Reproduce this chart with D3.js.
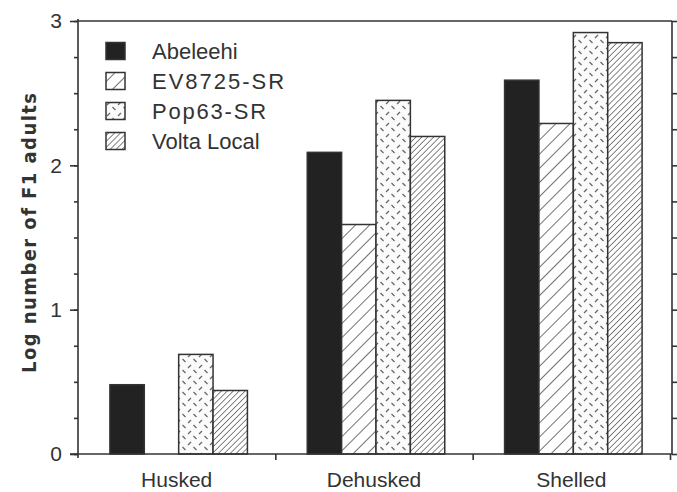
<!DOCTYPE html>
<html>
<head>
<meta charset="utf-8">
<script src="https://cdn.jsdelivr.net/npm/d3@7/dist/d3.min.js"></script>
<style>
  html, body { margin: 0; padding: 0; background: #fff; }
  svg { display: block; }
  .axis path, .axis line { stroke: #333; stroke-width: 1.6; }
  .axis text { font-family: "Liberation Sans", Arial, sans-serif; fill: #333; }
</style>
</head>
<body>
<svg id="chart"></svg>
<script>
// data
const groups = ["Husked", "Dehusked", "Shelled"];
const series = ["Abeleehi", "EV8725-SR", "Pop63-SR", "Volta Local"];
const abeleehi = [0.48, 2.09, 2.59];
const ev8725 = [null, 1.59, 2.29];
const pop63 = [0.69, 2.45, 2.92];
const voltaLocal = [0.44, 2.20, 2.85];
const yMajorTicks = [0, 1, 2, 3];

const values = [abeleehi, ev8725, pop63, voltaLocal];

const width = 677;
const height = 492;
const plotLeft = 78, plotRight = 672, plotTop = 21, plotBottom = 454;

const svg = d3.select("#chart")
    .attr("width", width)
    .attr("height", height);

// patterns
const defs = svg.append("defs");

// wide diagonal lines
const pEv = defs.append("pattern")
    .attr("id", "p-ev")
    .attr("patternUnits", "userSpaceOnUse")
    .attr("width", 10).attr("height", 10)
    .attr("patternTransform", "rotate(45)");
pEv.append("rect").attr("width", 10).attr("height", 10).attr("fill", "#fff");
pEv.append("line").attr("x1", 0).attr("y1", 0).attr("x2", 0).attr("y2", 10)
    .attr("stroke", "#333").attr("stroke-width", 1.4);

// scattered dashes
const pPop = defs.append("pattern")
    .attr("id", "p-pop")
    .attr("patternUnits", "userSpaceOnUse")
    .attr("width", 11).attr("height", 11);
pPop.append("rect").attr("width", 11).attr("height", 11).attr("fill", "#fbfbfb");
pPop.append("line").attr("x1", 1).attr("y1", 5).attr("x2", 4).attr("y2", 2)
    .attr("stroke", "#666").attr("stroke-width", 1.2);
pPop.append("line").attr("x1", 6.5).attr("y1", 7).attr("x2", 9.5).attr("y2", 10)
    .attr("stroke", "#666").attr("stroke-width", 1.2);

// dense diagonal lines
const pVolta = defs.append("pattern")
    .attr("id", "p-volta")
    .attr("patternUnits", "userSpaceOnUse")
    .attr("width", 4.2).attr("height", 4.2)
    .attr("patternTransform", "rotate(45)");
pVolta.append("rect").attr("width", 4.2).attr("height", 4.2).attr("fill", "#fff");
pVolta.append("line").attr("x1", 0).attr("y1", 0).attr("x2", 0).attr("y2", 4.2)
    .attr("stroke", "#444").attr("stroke-width", 1.3);

const fills = ["#222", "url(#p-ev)", "url(#p-pop)", "url(#p-volta)"];

// scales
const y = d3.scaleLinear().domain([0, 3]).range([plotBottom, plotTop]);
const x0 = d3.scaleBand().domain(groups).range([plotLeft, 670]);
const x1 = d3.scaleBand().domain(series)
    .range([2, x0.bandwidth() + 2])
    .paddingInner(0)
    .paddingOuter(0.87);
const xEdge = d3.scaleLinear().domain([0, 3]).range([plotLeft, 670]);

// frame top line
svg.append("line")
    .attr("x1", plotLeft).attr("x2", plotRight)
    .attr("y1", plotTop).attr("y2", plotTop)
    .attr("stroke", "#333").attr("stroke-width", 1.6);

// bars
const barData = [];
groups.forEach((g, gi) => {
    series.forEach((s, si) => {
        const v = values[si][gi];
        if (v != null) barData.push({ g, s, si, v });
    });
});

svg.append("g").selectAll("rect")
    .data(barData)
    .join("rect")
    .attr("x", d => x0(d.g) + x1(d.s))
    .attr("y", d => y(d.v))
    .attr("width", x1.bandwidth())
    .attr("height", d => y(0) - y(d.v))
    .attr("fill", d => fills[d.si])
    .attr("stroke", "#333")
    .attr("stroke-width", 1.5);

// left axis: minor then major
svg.append("g")
    .attr("class", "axis")
    .attr("transform", `translate(${plotLeft},0)`)
    .call(d3.axisLeft(y).tickValues(d3.range(0, 3.01, 0.25)).tickSize(4).tickFormat(""))
    .call(g => g.select(".domain").attr("d", `M0,${plotTop - 2}V${plotBottom + 4}`));

svg.append("g")
    .attr("class", "axis")
    .attr("transform", `translate(${plotLeft},0)`)
    .call(d3.axisLeft(y).tickValues(yMajorTicks).tickSize(8).tickPadding(8).tickFormat(d3.format("d")))
    .call(g => g.select(".domain").remove())
    .call(g => g.selectAll("text").attr("font-size", 21));

// right axis
svg.append("g")
    .attr("class", "axis")
    .attr("transform", `translate(${plotRight},0)`)
    .call(d3.axisRight(y).tickValues(d3.range(0, 3.01, 0.25)).tickSize(6).tickFormat(""))
    .call(g => g.select(".domain").attr("d", `M0,${plotTop}V${plotBottom}`));

// bottom axis line + group edge ticks
svg.append("g")
    .attr("class", "axis")
    .attr("transform", `translate(0,${plotBottom})`)
    .call(d3.axisBottom(xEdge).tickValues([1, 2, 3]).tickSize(6).tickFormat(""))
    .call(g => g.select(".domain").attr("d", `M70,0H${plotRight}`));

// category labels
svg.append("g")
    .attr("class", "axis")
    .attr("transform", `translate(0,${plotBottom})`)
    .call(d3.axisBottom(x0).tickSize(0).tickPadding(18))
    .call(g => g.select(".domain").remove())
    .call(g => g.selectAll("text").attr("font-size", 21));

// y label
svg.append("text")
    .attr("transform", "translate(36,233) rotate(-90)")
    .attr("text-anchor", "middle")
    .attr("font-family", "'DejaVu Sans Condensed', 'DejaVu Sans', sans-serif")
    .attr("font-stretch", "condensed")
    .attr("font-weight", "bold")
    .attr("font-size", 20)
    .attr("fill", "#333")
    .attr("textLength", 280)
    .attr("lengthAdjust", "spacing")
    .text("Log number of F1 adults");

// legend
const spacing = [0, 2, 1.8, 0];
const legend = svg.append("g")
    .attr("transform", "translate(106,51)");

const item = legend.selectAll("g")
    .data(series)
    .join("g")
    .attr("transform", (d, i) => `translate(0,${i * 30})`);

item.append("rect")
    .attr("x", 0).attr("y", -8.5)
    .attr("width", 19).attr("height", 17)
    .attr("fill", (d, i) => fills[i])
    .attr("stroke", "#333")
    .attr("stroke-width", 1.5);

item.append("text")
    .attr("x", 46)
    .attr("y", 8)
    .attr("font-family", "'Liberation Sans', Arial, sans-serif")
    .attr("font-size", 22)
    .attr("letter-spacing", (d, i) => spacing[i])
    .attr("fill", "#333")
    .text(d => d);
</script>
</body>
</html>
